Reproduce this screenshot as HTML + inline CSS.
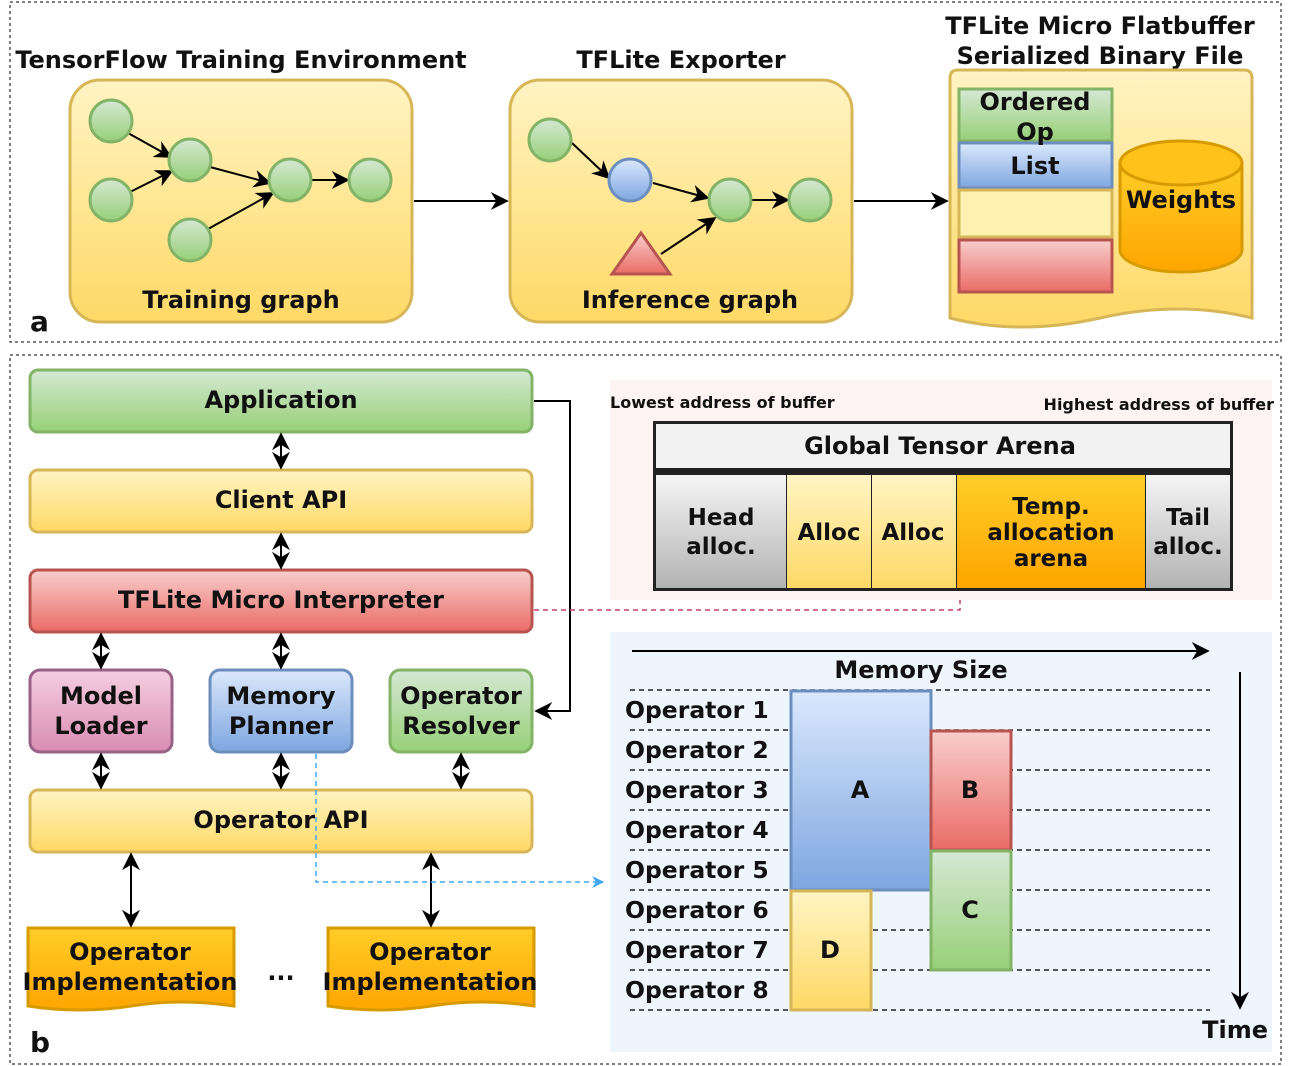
<!DOCTYPE html>
<html><head><meta charset="utf-8"><style>
html,body{margin:0;padding:0;background:#fff;}
svg{display:block;}
text{font-family:"DejaVu Sans","Liberation Sans",sans-serif;font-weight:bold;fill:#111;}
</style></head><body>
<svg width="1292" height="1066" viewBox="0 0 1292 1066" xmlns="http://www.w3.org/2000/svg">
<defs>
<linearGradient id="gy" x1="0" y1="0" x2="0" y2="1"><stop offset="0" stop-color="#fff4c3"/><stop offset="1" stop-color="#ffd966"/></linearGradient>
<linearGradient id="gg" x1="0" y1="0" x2="0" y2="1"><stop offset="0" stop-color="#d5e8d4"/><stop offset="1" stop-color="#97d077"/></linearGradient>
<linearGradient id="gb" x1="0" y1="0" x2="0" y2="1"><stop offset="0" stop-color="#dae8fc"/><stop offset="1" stop-color="#7ea6e0"/></linearGradient>
<linearGradient id="gr" x1="0" y1="0" x2="0" y2="1"><stop offset="0" stop-color="#f8cecc"/><stop offset="1" stop-color="#ea6b66"/></linearGradient>
<linearGradient id="gp" x1="0" y1="0" x2="0" y2="1"><stop offset="0" stop-color="#f5cfe0"/><stop offset="1" stop-color="#d98cb3"/></linearGradient>
<linearGradient id="go" x1="0" y1="0" x2="0" y2="1"><stop offset="0" stop-color="#ffcd28"/><stop offset="1" stop-color="#ffa500"/></linearGradient>
<linearGradient id="gs" x1="0" y1="0" x2="0" y2="1"><stop offset="0" stop-color="#f5f5f5"/><stop offset="1" stop-color="#b3b3b3"/></linearGradient>
<marker id="ar" viewBox="0 0 10 10" refX="9" refY="5" markerWidth="9" markerHeight="9" orient="auto-start-reverse"><path d="M0,0 L10,5 L0,10 L3,5 z" fill="#000"/></marker>
<marker id="arb" viewBox="0 0 10 10" refX="9" refY="5" markerWidth="8" markerHeight="8" orient="auto"><path d="M0,0 L10,5 L0,10 L3,5 z" fill="#3fa9f5"/></marker>
</defs>

<!-- panel a -->
<rect x="10" y="2" width="1271" height="340" fill="none" stroke="#000" stroke-dasharray="3,3"/>
<text x="241" y="68" font-size="24" text-anchor="middle">TensorFlow Training Environment</text>
<text x="681" y="68" font-size="24" text-anchor="middle">TFLite Exporter</text>
<text x="1100" y="34" font-size="24" text-anchor="middle">TFLite Micro Flatbuffer</text>
<text x="1100" y="64" font-size="24" text-anchor="middle">Serialized Binary File</text>

<rect x="70" y="80" width="342" height="242" rx="30" fill="url(#gy)" stroke="#d6b656" stroke-width="3"/>
<g stroke="#000" stroke-width="2" marker-end="url(#ar)">
<line x1="128" y1="133" x2="171" y2="157"/>
<line x1="130" y1="192" x2="172" y2="171"/>
<line x1="210" y1="167" x2="270" y2="183"/>
<line x1="208" y1="229" x2="273" y2="193"/>
<line x1="312" y1="180" x2="348" y2="180"/>
</g>
<g fill="url(#gg)" stroke="#82b366" stroke-width="3">
<circle cx="111" cy="121" r="21"/><circle cx="111" cy="200" r="21"/><circle cx="190" cy="160" r="21"/>
<circle cx="190" cy="240" r="21"/><circle cx="290" cy="180" r="21"/><circle cx="370" cy="180" r="21"/>
</g>
<text x="241" y="308" font-size="24" text-anchor="middle">Training graph</text>

<rect x="510" y="80" width="342" height="242" rx="30" fill="url(#gy)" stroke="#d6b656" stroke-width="3"/>
<g stroke="#000" stroke-width="2" marker-end="url(#ar)">
<line x1="572" y1="143" x2="609" y2="178"/>
<line x1="653" y1="183" x2="708" y2="198"/>
<line x1="661" y1="254" x2="715" y2="218"/>
<line x1="752" y1="200" x2="788" y2="200"/>
</g>
<g fill="url(#gg)" stroke="#82b366" stroke-width="3">
<circle cx="550" cy="140" r="21"/><circle cx="730" cy="200" r="21"/><circle cx="810" cy="200" r="21"/>
</g>
<circle cx="630" cy="180" r="21" fill="url(#gb)" stroke="#6c8ebf" stroke-width="3"/>
<polygon points="641,233 612,274 670,274" fill="url(#gr)" stroke="#b85450" stroke-width="3"/>
<text x="690" y="308" font-size="24" text-anchor="middle">Inference graph</text>

<g stroke="#000" stroke-width="2" marker-end="url(#ar)">
<line x1="414" y1="201" x2="507" y2="201"/>
<line x1="854" y1="201" x2="947" y2="201"/>
</g>

<path d="M950,78 Q950,70 958,70 L1244,70 Q1252,70 1252,78 L1252,318 Q1180,300 1100,318 Q1020,336 950,318 Z" fill="url(#gy)" stroke="#d6b656" stroke-width="3"/>
<rect x="959" y="89" width="153" height="52" fill="url(#gg)" stroke="#82b366" stroke-width="3"/>
<rect x="959" y="143" width="153" height="45" fill="url(#gb)" stroke="#6c8ebf" stroke-width="3"/>
<rect x="959" y="190" width="153" height="47" fill="#fff2b0" stroke="#d6b656" stroke-width="3"/>
<rect x="959" y="240" width="153" height="52" fill="url(#gr)" stroke="#b85450" stroke-width="3"/>
<text x="1035" y="110" font-size="24" text-anchor="middle">Ordered</text>
<text x="1035" y="140" font-size="24" text-anchor="middle">Op</text>
<text x="1035" y="174" font-size="24" text-anchor="middle">List</text>
<path d="M1120,163 L1120,250 A61,22 0 0 0 1242,250 L1242,163 Z" fill="url(#go)" stroke="#d79b00" stroke-width="3"/>
<ellipse cx="1181" cy="163" rx="61" ry="22" fill="#ffc21a" stroke="#d79b00" stroke-width="3"/>
<text x="1181" y="208" font-size="24" text-anchor="middle">Weights</text>
<text x="30" y="331" font-size="28">a</text>

<!-- panel b -->
<rect x="10" y="355" width="1271" height="709" fill="none" stroke="#000" stroke-dasharray="3,3"/>

<rect x="30" y="370" width="502" height="62" rx="8" fill="url(#gg)" stroke="#82b366" stroke-width="3"/>
<text x="281" y="408" font-size="24" text-anchor="middle">Application</text>
<rect x="30" y="470" width="502" height="62" rx="8" fill="url(#gy)" stroke="#d6b656" stroke-width="3"/>
<text x="281" y="508" font-size="24" text-anchor="middle">Client API</text>
<rect x="30" y="570" width="502" height="62" rx="8" fill="url(#gr)" stroke="#b85450" stroke-width="3"/>
<text x="281" y="608" font-size="24" text-anchor="middle">TFLite Micro Interpreter</text>
<rect x="30" y="670" width="142" height="82" rx="10" fill="url(#gp)" stroke="#996185" stroke-width="3"/>
<text x="101" y="704" font-size="24" text-anchor="middle">Model</text>
<text x="101" y="734" font-size="24" text-anchor="middle">Loader</text>
<rect x="210" y="670" width="142" height="82" rx="10" fill="url(#gb)" stroke="#6c8ebf" stroke-width="3"/>
<text x="281" y="704" font-size="24" text-anchor="middle">Memory</text>
<text x="281" y="734" font-size="24" text-anchor="middle">Planner</text>
<rect x="390" y="670" width="142" height="82" rx="10" fill="url(#gg)" stroke="#82b366" stroke-width="3"/>
<text x="461" y="704" font-size="24" text-anchor="middle">Operator</text>
<text x="461" y="734" font-size="24" text-anchor="middle">Resolver</text>
<rect x="30" y="790" width="502" height="62" rx="8" fill="url(#gy)" stroke="#d6b656" stroke-width="3"/>
<text x="281" y="828" font-size="24" text-anchor="middle">Operator API</text>

<path d="M28,928 L234,928 L234,1006 Q180,998 131,1006 Q80,1014 28,1006 Z" fill="url(#go)" stroke="#d79b00" stroke-width="3"/>
<path d="M328,928 L534,928 L534,1006 Q480,998 431,1006 Q380,1014 328,1006 Z" fill="url(#go)" stroke="#d79b00" stroke-width="3"/>
<text x="130" y="960" font-size="24" text-anchor="middle">Operator</text>
<text x="130" y="990" font-size="24" text-anchor="middle">Implementation</text>
<text x="430" y="960" font-size="24" text-anchor="middle">Operator</text>
<text x="430" y="990" font-size="24" text-anchor="middle">Implementation</text>
<text x="281" y="980" font-size="24" text-anchor="middle">...</text>
<text x="30" y="1052" font-size="28">b</text>

<g stroke="#000" stroke-width="2" marker-start="url(#ar)" marker-end="url(#ar)">
<line x1="281" y1="434" x2="281" y2="468"/>
<line x1="281" y1="534" x2="281" y2="568"/>
<line x1="101" y1="634" x2="101" y2="668"/>
<line x1="281" y1="634" x2="281" y2="668"/>
<line x1="101" y1="754" x2="101" y2="788"/>
<line x1="281" y1="754" x2="281" y2="788"/>
<line x1="461" y1="754" x2="461" y2="788"/>
<line x1="131" y1="854" x2="131" y2="926"/>
<line x1="431" y1="854" x2="431" y2="926"/>
</g>
<polyline points="534,401 570,401 570,711 536,711" fill="none" stroke="#000" stroke-width="2" marker-end="url(#ar)"/>
<polyline points="316,754 316,882 603,882" fill="none" stroke="#3fa9f5" stroke-width="1.5" stroke-dasharray="5,4" marker-end="url(#arb)"/>
<polyline points="534,610 960,610 960,594" fill="none" stroke="#c0436a" stroke-width="1.5" stroke-dasharray="5,4"/>

<!-- tensor arena -->
<rect x="610" y="380" width="662" height="220" fill="#fdf3f3"/>
<text x="610" y="408" font-size="16">Lowest address of buffer</text>
<text x="1274" y="410" font-size="16" text-anchor="end">Highest address of buffer</text>
<rect x="653" y="421" width="580" height="170" fill="#222"/>
<rect x="656" y="424" width="574" height="44" fill="#f2f2f2"/>
<text x="940" y="454" font-size="24" text-anchor="middle">Global Tensor Arena</text>
<rect x="656" y="475" width="130" height="113" fill="url(#gs)"/>
<rect x="787" y="475" width="84" height="113" fill="url(#gy)"/>
<rect x="872" y="475" width="84" height="113" fill="url(#gy)"/>
<rect x="957" y="475" width="188" height="113" fill="url(#go)"/>
<rect x="1146" y="475" width="84" height="113" fill="url(#gs)"/>
<g font-size="23" text-anchor="middle">
<text x="721" y="525">Head</text><text x="721" y="554">alloc.</text>
<text x="829" y="540">Alloc</text><text x="913" y="540">Alloc</text>
<text x="1051" y="514">Temp.</text><text x="1051" y="540">allocation</text><text x="1051" y="566">arena</text>
<text x="1188" y="525">Tail</text><text x="1188" y="554">alloc.</text>
</g>

<!-- memory chart -->
<rect x="610" y="632" width="662" height="420" fill="#eef5fc"/>
<line x1="632" y1="651" x2="1208" y2="651" stroke="#000" stroke-width="2" marker-end="url(#ar)"/>
<line x1="1240" y1="672" x2="1240" y2="1008" stroke="#000" stroke-width="2" marker-end="url(#ar)"/>
<text x="921" y="678" font-size="24" text-anchor="middle">Memory Size</text>
<text x="1268" y="1038" font-size="24" text-anchor="end">Time</text>
<g stroke="#222" stroke-width="1.5" stroke-dasharray="5,4">
<line x1="630" y1="690" x2="1210" y2="690"/><line x1="630" y1="730" x2="1210" y2="730"/>
<line x1="630" y1="770" x2="1210" y2="770"/><line x1="630" y1="810" x2="1210" y2="810"/>
<line x1="630" y1="850" x2="1210" y2="850"/><line x1="630" y1="890" x2="1210" y2="890"/>
<line x1="630" y1="930" x2="1210" y2="930"/><line x1="630" y1="970" x2="1210" y2="970"/>
<line x1="630" y1="1010" x2="1210" y2="1010"/>
</g>
<g font-size="23.5">
<text x="625" y="718">Operator 1</text><text x="625" y="758">Operator 2</text>
<text x="625" y="798">Operator 3</text><text x="625" y="838">Operator 4</text>
<text x="625" y="878">Operator 5</text><text x="625" y="918">Operator 6</text>
<text x="625" y="958">Operator 7</text><text x="625" y="998">Operator 8</text>
</g>
<rect x="791" y="691" width="140" height="199" fill="url(#gb)" stroke="#6c8ebf" stroke-width="3"/>
<rect x="931" y="731" width="80" height="119" fill="url(#gr)" stroke="#b85450" stroke-width="3"/>
<rect x="931" y="851" width="80" height="119" fill="url(#gg)" stroke="#82b366" stroke-width="3"/>
<rect x="791" y="891" width="80" height="119" fill="url(#gy)" stroke="#d6b656" stroke-width="3"/>
<g font-size="24" text-anchor="middle">
<text x="860" y="798">A</text><text x="970" y="798">B</text><text x="970" y="918">C</text><text x="830" y="958">D</text>
</g>
</svg>
</body></html>
